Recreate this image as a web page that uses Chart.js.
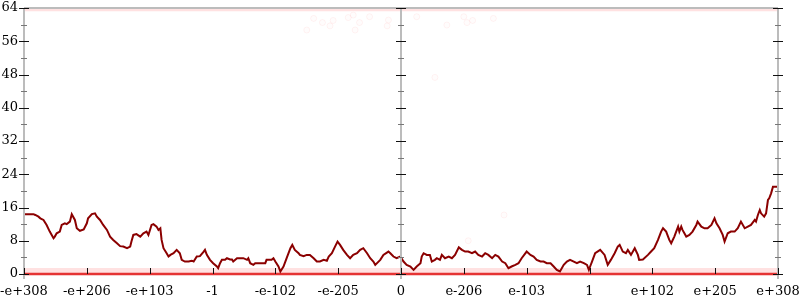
<!DOCTYPE html>
<html>
<head>
<meta charset="utf-8">
<script src="https://cdn.jsdelivr.net/npm/chart.js@4"></script>
<style>
  html, body { margin: 0; padding: 0; background: #fff; }
  #wrap { width: 800px; height: 300px; }
</style>
</head>
<body>
<div id="wrap"><canvas id="chart" width="800" height="300"></canvas></div>
<script>
// tick labels, one per 100 units on x (-600 .. 600)
const xLabels = ['-e+308', '-e+206', '-e+103', '-1', '-e-102', '-e-205', '0',
                 'e-206', 'e-103', '1', 'e+102', 'e+205', 'e+308'];

// main trace (dark red)
const lineX = [
  -600, -585, -582, -577, -574, -569, -564, -559, -553, -551,
  -548, -543, -540, -535, -532, -527, -524, -519, -516, -511,
  -505, -500, -498, -492, -487, -484, -479, -474, -468, -463,
  -458, -452, -447, -442, -436, -431, -429, -426, -421, -415,
  -410, -405, -402, -397, -394, -389, -386, -383, -381, -378,
  -373, -370, -367, -362, -357, -352, -349, -344, -338, -333,
  -330, -325, -320,
  -314, -312, -309, -304, -299, -293, -291, -288, -285, -280,
  -277, -272, -269, -267, -261, -251, -245, -243, -240, -235,
  -232, -216, -214, -206, -203, -200, -195, -192, -187, -182,
  -176, -173, -169, -163, -161, -155, -150, -145, -139, -134,
  -129, -123, -118, -115, -110, -105, -101, -97, -92, -86,
  -81, -76, -70, -65, -60, -54, -49, -44, -41, -33,
  -28, -20, -17, -12, -7, -1,
  4, 9, 15, 20, 25, 31, 33, 36, 41, 46,
  49, 54, 57, 62, 65, 70, 76, 81, 86, 92,
  97, 102, 107, 113, 118, 123, 129, 134, 139, 145,
  150, 155, 161, 166, 171, 176, 182, 187, 192, 200,
  206, 211, 216, 222, 227, 232, 238, 243, 248, 253,
  259, 264, 269, 275, 280, 285, 291, 296, 299, 301,
  304, 309, 317,
  324, 329, 334, 340, 345, 348, 353, 358, 361, 366,
  372, 377, 379, 385, 393, 398, 403, 409, 414, 417,
  422, 427, 430, 435, 441, 443, 446, 448, 454, 459,
  464, 470, 472, 478, 483, 488, 494, 499, 502, 507,
  512, 515, 520, 525, 531, 536, 541, 547, 552, 557,
  563, 565, 568, 571, 573, 578, 581, 584, 586, 589,
  592, 600
];
const lineY = [
  14.4, 14.4, 14.2, 13.8, 13.4, 13.0, 11.8, 10.2, 8.6, 9.0,
  9.8, 10.2, 11.8, 12.2, 12.0, 12.6, 14.4, 13.0, 11.0, 10.4,
  10.7, 12.2, 13.4, 14.4, 14.6, 13.8, 13.0, 11.8, 10.6, 9.0,
  8.2, 7.4, 6.7, 6.6, 6.2, 6.6, 7.8, 9.4, 9.6, 9.0,
  9.8, 10.2, 9.4, 11.8, 12.0, 11.4, 10.6, 11.0, 8.2, 6.2,
  5.0, 4.2, 4.6, 5.0, 5.8, 5.0, 3.4, 3.0, 3.0, 3.2,
  3.0, 4.2, 4.3,
  5.4, 5.8, 4.6, 3.4, 2.6, 1.8, 1.4, 2.6, 3.4, 3.4,
  3.8, 3.5, 3.5, 3.0, 3.8, 3.8, 3.4, 3.8, 2.6, 2.2,
  2.6, 2.6, 3.4, 3.4, 3.8, 3.0, 1.8, 0.6, 1.8, 3.8,
  6.2, 7.0, 5.8, 5.0, 4.6, 4.3, 4.6, 4.6, 3.8, 3.0,
  3.0, 3.4, 3.2, 4.2, 5.0, 6.6, 7.8, 7.0, 5.8, 4.6,
  3.8, 4.6, 5.0, 5.8, 6.2, 5.0, 3.8, 3.0, 2.2, 3.4,
  4.6, 5.4, 5.0, 4.2, 3.8, 4.2,
  3.0, 2.2, 1.8, 1.0, 1.8, 2.6, 4.2, 5.0, 4.6, 4.6,
  3.0, 3.4, 3.8, 3.4, 4.6, 3.8, 4.2, 3.8, 4.6, 6.4,
  5.8, 5.4, 5.4, 5.0, 5.4, 4.6, 4.2, 5.0, 4.6, 3.8,
  4.6, 4.2, 3.0, 2.6, 1.4, 1.8, 2.2, 2.6, 3.8, 5.4,
  4.6, 4.2, 3.4, 3.0, 3.0, 2.6, 2.6, 1.8, 1.0, 0.6,
  2.2, 3.0, 3.4, 3.0, 2.6, 3.0, 2.6, 2.2, 1.0, 1.8,
  3.0, 5.0, 5.8,
  4.6, 2.2, 3.4, 5.0, 6.6, 7.0, 5.4, 5.0, 5.8, 4.6,
  6.2, 4.6, 3.4, 3.5, 4.6, 5.4, 6.2, 8.2, 10.2, 11.0,
  10.2, 8.2, 7.4, 9.0, 11.4, 10.2, 11.4, 10.6, 9.0, 9.4,
  10.2, 11.8, 12.6, 11.4, 11.0, 11.0, 11.8, 13.4, 12.2, 11.0,
  9.4, 7.8, 9.8, 10.2, 10.2, 11.0, 12.6, 11.0, 11.4, 11.8,
  13.0, 12.6, 14.2, 15.4, 14.6, 13.8, 14.6, 17.8, 18.2, 19.4,
  21.0, 21.0
];

// faint stray samples
const strayX = [-150, -139, -125, -113, -108, -84, -76, -73, -66, -50,
                -22, -20, 25, 54, 73, 100, 105, 107, 114, 147, 164];
const strayY = [58.7, 61.5, 60.5, 59.7, 61.0, 61.7, 62.3, 58.7, 60.5, 61.9,
                59.7, 61.1, 61.9, 47.3, 59.9, 61.9, 60.5, 8.0, 61.0, 61.5, 14.2];

// flat bands along the floor and the ceiling
const edgeX = [-600, 600];
const floorY = [0, 0];
const lowBandY = [0.85, 0.85];
const topBandY = [63.6, 63.6];

const pts = (xs, ys) => xs.map((x, i) => ({ x: x, y: ys[i] }));

const axisPainter = {
  id: 'axisPainter',
  afterDatasetsDraw(chart) {
    const { ctx, chartArea: a, scales: { x, y } } = chart;
    const mid = x.getPixelForValue(0);
    ctx.save();
    // grey frame
    ctx.strokeStyle = '#bcbcbc';
    ctx.lineWidth = 2;
    ctx.beginPath();
    ctx.moveTo(a.left, a.top);
    ctx.lineTo(a.right, a.top);
    [a.left, mid, a.right].forEach(px => {
      ctx.moveTo(px, a.top);
      ctx.lineTo(px, a.bottom + 5);
    });
    ctx.stroke();

    // y ticks on the three vertical axes, crossing both sides
    const vals = y.ticks.map(t => t.value);
    ctx.lineWidth = 1;
    [a.left, mid, a.right].forEach(px => {
      vals.forEach((v, i) => {
        const py = Math.round(y.getPixelForValue(v)) + 0.5;
        ctx.strokeStyle = '#111';
        ctx.beginPath();
        ctx.moveTo(px - 5, py);
        ctx.lineTo(px + 5, py);
        ctx.stroke();
        if (i < vals.length - 1) {
          const my = Math.round(y.getPixelForValue((v + vals[i + 1]) / 2)) + 0.5;
          ctx.strokeStyle = '#777';
          ctx.beginPath();
          ctx.moveTo(px - 3, my);
          ctx.lineTo(px + 3, my);
          ctx.stroke();
        }
      });
    });

    // x ticks, pointing up from the floor
    ctx.strokeStyle = '#111';
    x.ticks.forEach(t => {
      const px = Math.round(x.getPixelForValue(t.value)) + 0.5;
      ctx.beginPath();
      ctx.moveTo(px, a.bottom - 6);
      ctx.lineTo(px, a.bottom);
      ctx.stroke();
    });
    ctx.restore();
  }
};

const font = { family: 'DejaVu Serif', size: 13 };

new Chart(document.getElementById('chart').getContext('2d'), {
  type: 'line',
  data: {
    datasets: [
      {
        data: pts(lineX, lineY),
        borderColor: '#8b0000',
        borderWidth: 2,
        pointRadius: 0,
        tension: 0
      },
      {
        data: pts(edgeX, floorY),
        borderColor: 'rgba(228, 40, 40, 0.95)',
        borderWidth: 2.5,
        pointRadius: 0,
        clip: false
      },
      {
        data: pts(edgeX, lowBandY),
        borderColor: 'rgba(255, 70, 70, 0.16)',
        borderWidth: 5,
        pointRadius: 0
      },
      {
        data: pts(edgeX, topBandY),
        borderColor: 'rgba(255, 70, 70, 0.16)',
        borderWidth: 3,
        pointRadius: 0
      },
      {
        data: pts(strayX, strayY),
        showLine: false,
        pointRadius: 3,
        pointBackgroundColor: 'rgba(255, 0, 0, 0.01)',
        pointBorderColor: 'rgba(255, 0, 0, 0.05)',
        pointBorderWidth: 1
      }
    ]
  },
  options: {
    responsive: false,
    animation: false,
    layout: { padding: { top: 8, right: 22, left: 0, bottom: 0 } },
    plugins: {
      legend: { display: false },
      tooltip: { enabled: false }
    },
    scales: {
      x: {
        type: 'linear',
        min: -600,
        max: 600,
        grid: { display: false, drawTicks: false },
        border: { display: false },
        ticks: {
          stepSize: 100,
          autoSkip: false,
          maxRotation: 0,
          padding: 10,
          color: '#000',
          font: font,
          callback: v => xLabels[Math.round((v + 600) / 100)]
        },
        afterFit: s => {
          s.height = 26;
          s.paddingLeft = 0;
          s.paddingRight = 0;
        }
      },
      y: {
        min: 0,
        max: 64,
        grid: { display: false, drawTicks: false },
        border: { display: false },
        ticks: {
          stepSize: 8,
          padding: 6,
          color: '#000',
          font: font
        },
        afterFit: s => {
          s.width = 24;
          s.paddingTop = 0;
          s.paddingBottom = 0;
        }
      }
    }
  },
  plugins: [axisPainter]
});
</script>
</body>
</html>
